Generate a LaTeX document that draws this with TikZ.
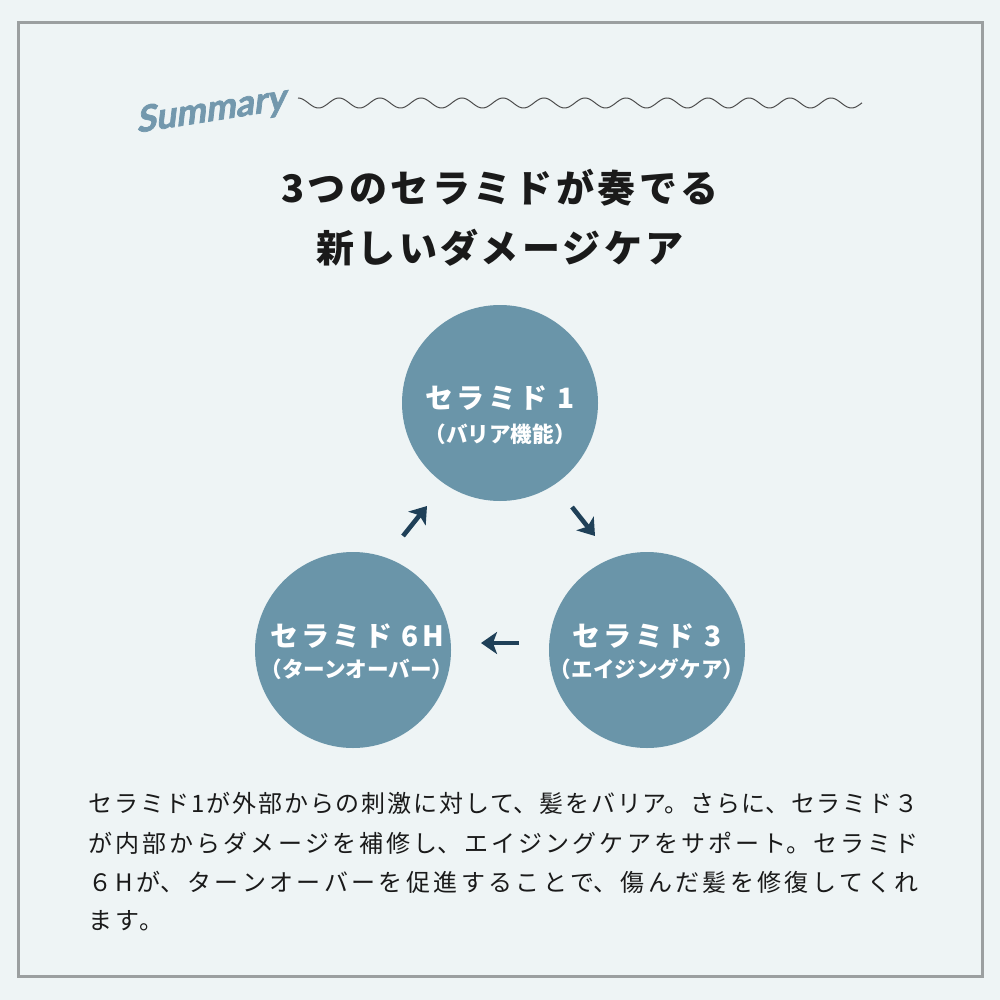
\documentclass[tikz,border=0pt]{standalone}
\usepackage{fontspec}
\setmainfont{Noto Sans CJK JP}
\newfontfamily\summaryfont{Lato}[FakeSlant=0.28, FakeBold=2]
\usetikzlibrary{arrows.meta}

\XeTeXlinebreaklocale "ja"
\XeTeXlinebreakskip=0pt plus 1fil

\definecolor{bgc}{HTML}{EEF4F5}
\definecolor{framec}{HTML}{9B9FA0}
\definecolor{circc}{HTML}{6A95A9}
\definecolor{arrowc}{HTML}{1F4058}
\definecolor{sumc}{HTML}{7398AD}
\definecolor{txtc}{HTML}{1A1A1A}

% one justified line of the body text
\newcommand{\bodyline}[1]{\parbox{415pt}{\parfillskip=0pt\relax #1}}

\begin{document}
\begin{tikzpicture}[x=0.5pt, y=-0.5pt,
    circ/.style={circle, fill=circc, minimum size=98pt, inner sep=0pt},
    ctitle/.style={text=white, font=\fontsize{14}{16}\selectfont\bfseries\addfontfeature{LetterSpace=12}},
    csub/.style={text=white, font=\fontsize{10.8}{12}\selectfont\bfseries},
    heading/.style={text=txtc, font=\fontsize{19}{22}\selectfont\bfseries\addfontfeature{LetterSpace=9}},
    body/.style={text=txtc, anchor=west, inner sep=0pt, font=\fontsize{12}{14}\selectfont},
    arr/.style={-{Stealth[length=8pt, width=11pt, inset=2pt]}, line width=2.3pt, arrowc}
  ]
  % page
  \useasboundingbox (0,0) rectangle (1000,1000);
  \fill[bgc] (0,0) rectangle (1000,1000);
  \draw[framec, line width=1.5pt] (18,23) rectangle (982,976);

  % header
  \node[text=sumc, rotate=9, font=\summaryfont\fontsize{18}{22}\selectfont\bfseries] (sum) at (210,111) {Summary};
  \draw[black!70, line width=0.5pt] plot[domain=298:862, samples=400, smooth]
    (\x, {103 - 5*cos(8.7805*(\x-298))});

  \node[heading] (head1) at (500,188) {3つのセラミドが奏でる};
  \node[heading] (head2) at (500,248) {新しいダメージケア};

  % circles
  \node[circ] (c1) at (500,403) {};
  \node[circ] (c3) at (647,650) {};
  \node[circ] (c6) at (353,650) {};

  \node[ctitle] (c1t) at (500,398) {セラミド 1};
  \node[csub] (c1s) at (500,434) {（バリア機能）};
  \node[ctitle] (c3t) at (647,636) {セラミド 3};
  \node[csub] (c3s) at (647,669) {（エイジングケア）};
  \node[ctitle] (c6t) at (357,636) {セラミド 6H};
  \node[csub] (c6s) at (357,669) {（ターンオーバー）};

  % arrows
  \coordinate (a1s) at (403,536);
  \coordinate (a1e) at (427,506);
  \coordinate (a2s) at (572,507);
  \coordinate (a2e) at (595,536);
  \coordinate (a3s) at (519,643);
  \coordinate (a3e) at (481,643);
  \draw[arr] (a1s) -- (a1e);
  \draw[arr] (a2s) -- (a2e);
  \draw[arr] (a3s) -- (a3e);

  % body text
  \node[body] (l1) at (88,803) {\bodyline{セラミド1が外部からの刺激に対して、髪をバリア。さらに、セラミド３}};
  \node[body] (l2) at (88,843) {\bodyline{が内部からダメージを補修し、エイジングケアをサポート。セラミド}};
  \node[body] (l3) at (88,882) {\bodyline{６Hが、ターンオーバーを促進することで、傷んだ髪を修復してくれ}};
  \node[body] (l4) at (88,921) {\addfontfeature{LetterSpace=11}ます。};
\end{tikzpicture}
\end{document}
